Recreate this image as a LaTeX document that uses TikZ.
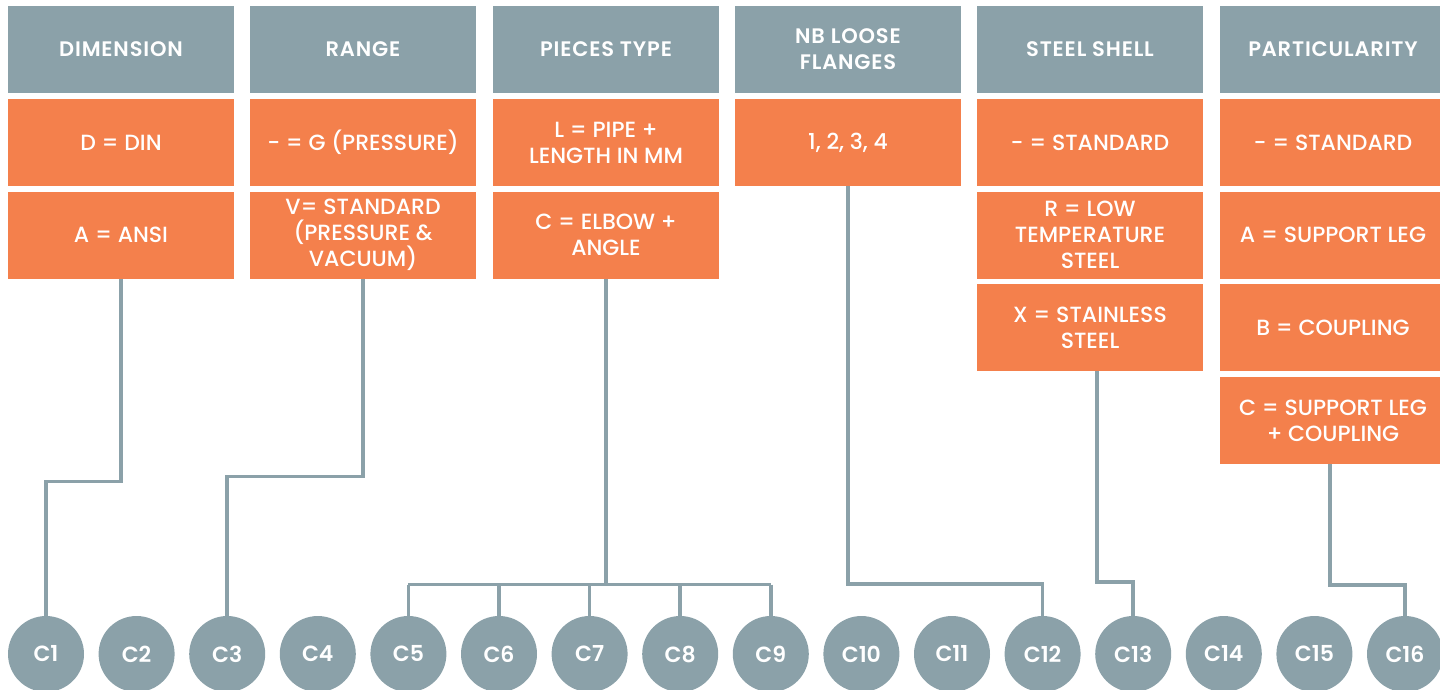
\documentclass[tikz,border=0pt]{standalone}
\usepackage{fontspec}
\setmainfont{Poppins}[UprightFont=* Medium, BoldFont=* SemiBold]
\usetikzlibrary{calc}

\definecolor{codeorange}{HTML}{F4804C}
\definecolor{codegray}{HTML}{8BA1A9}

\begin{document}
\begin{tikzpicture}[x=1pt, y=-1pt]
    \tikzset{hdr/.style={rectangle, fill=codegray, text=white, minimum width=226pt, minimum height=87pt, inner sep=0pt, align=center, font=\fontsize{21}{26}\selectfont\bfseries\addfontfeature{LetterSpace=4}},
             opt/.style={rectangle, fill=codeorange, text=white, minimum width=226pt, minimum height=87pt, inner sep=0pt, align=center, font=\fontsize{22}{26}\selectfont},
             ball/.style={circle, fill=codegray, text=white, minimum size=76pt, inner sep=0pt, font=\fontsize{22}{26}\selectfont\bfseries},
             link/.style={draw=codegray, line width=3.5pt}};
    \useasboundingbox (0,0) rectangle (1440,689);
    % headers
    \node[hdr] (dim) at (121, 49.5) {DIMENSION};
    \node[hdr] (range) at (363, 49.5) {RANGE};
    \node[hdr] (pieces) at (606, 49.5) {PIECES TYPE};
    \node[hdr] (nb) at (848, 49.5) {NB LOOSE\\FLANGES};
    \node[hdr] (shell) at (1090, 49.5) {STEEL SHELL};
    \node[hdr] (part) at (1333, 49.5) {PARTICULARITY};
    % options
    \node[opt] (dimD) at (121, 142.5) {D = DIN};
    \node[opt] (dimA) at (121, 235) {A = ANSI};
    \node[opt] (rangeG) at (363, 142.5) {- = G (PRESSURE)};
    \node[opt] (rangeV) at (363, 235) {V= STANDARD\\(PRESSURE \&\\VACUUM)};
    \node[opt] (piecesL) at (606, 142.5) {L = PIPE +\\LENGTH IN MM};
    \node[opt] (piecesC) at (606, 235) {C = ELBOW +\\ANGLE};
    \node[opt] (nbN) at (848, 142.5) {1, 2, 3, 4};
    \node[opt] (shellS) at (1090, 142.5) {- = STANDARD};
    \node[opt] (shellR) at (1090, 235) {R = LOW\\TEMPERATURE\\STEEL};
    \node[opt] (shellX) at (1090, 327.5) {X = STAINLESS\\STEEL};
    \node[opt] (partS) at (1333, 142.5) {- = STANDARD};
    \node[opt] (partA) at (1333, 235) {A = SUPPORT LEG};
    \node[opt] (partB) at (1333, 327.5) {B = COUPLING};
    \node[opt] (partC) at (1333, 420.5) {C = SUPPORT LEG\\+ COUPLING};
    % code positions
    \foreach \i in {1,...,16}
        \node[ball] (c\i) at ({46 + (\i-1)*90.6}, 654) {C\i};
    % connectors
    \draw[link] (dimA.south) -- ++(0,203) -| (c1.north);
    \draw[link] (rangeV.south) -- ++(0,198) -| (c3.north);
    \draw[link] (piecesC.south) -- ++(0,306) coordinate (pj);
    \draw[link] (pj -| c5.north) -- (pj -| c9.north);
    \foreach \i in {5,...,9}
        \draw[link] (pj -| c\i.north) -- (c\i.north);
    \draw[link] (nbN.south) -- ++(0,398) -| (c12.north);
    \draw[link] ($(shellX.south)+(7,0)$) -- ++(0,211) -| (c13.north);
    \draw[link] ($(partC.south)+(-3,0)$) -- ++(0,121) -| (c16.north);
\end{tikzpicture}
\end{document}
